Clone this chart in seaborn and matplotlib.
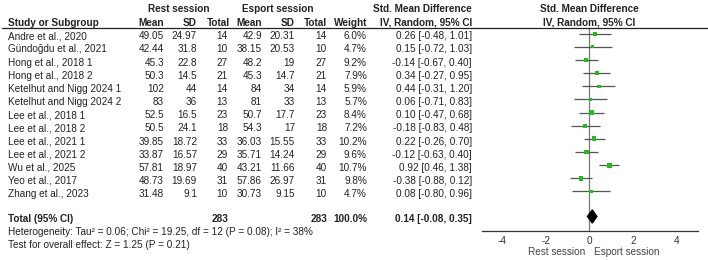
import matplotlib
matplotlib.use('Agg')
import matplotlib.pyplot as plt
from matplotlib.lines import Line2D
from matplotlib.patches import Polygon
from matplotlib.transforms import blended_transform_factory
import numpy as np
import pandas as pd
import seaborn as sns

# ---- data ----
studies = ['Andre et al., 2020', 'Gündoğdu et al., 2021', 'Hong et al., 2018 1', 'Hong et al., 2018 2',
           'Ketelhut and Nigg 2024 1', 'Ketelhut and Nigg 2024 2', 'Lee et al., 2018 1', 'Lee et al., 2018 2',
           'Lee et al., 2021 1', 'Lee et al., 2021 2', 'Wu et al., 2025', 'Yeo et al., 2017', 'Zhang et al., 2023']
rest_mean = ['49.05', '42.44', '45.3', '50.3', '102', '83', '52.5', '50.5', '39.85', '33.87', '57.81', '48.73', '31.48']
rest_sd = ['24.97', '31.8', '22.8', '14.5', '44', '36', '16.5', '24.1', '18.72', '16.57', '18.97', '19.69', '9.1']
rest_n = [14, 10, 27, 21, 14, 13, 23, 18, 33, 29, 40, 31, 10]
esport_mean = ['42.9', '38.15', '48.2', '45.3', '84', '81', '50.7', '54.3', '36.03', '35.71', '43.21', '57.86', '30.73']
esport_sd = ['20.31', '20.53', '19', '14.7', '34', '33', '17.7', '17', '15.55', '14.24', '11.66', '26.97', '9.15']
esport_n = [14, 10, 27, 21, 14, 13, 23, 18, 33, 29, 40, 31, 10]
weight = [6.0, 4.7, 9.2, 7.9, 5.9, 5.7, 8.4, 7.2, 10.2, 9.6, 10.7, 9.8, 4.7]
smd = [0.26, 0.15, -0.14, 0.34, 0.44, 0.06, 0.10, -0.18, 0.22, -0.12, 0.92, -0.38, 0.08]
ci_low = [-0.48, -0.72, -0.67, -0.27, -0.31, -0.71, -0.47, -0.83, -0.26, -0.63, 0.46, -0.88, -0.80]
ci_high = [1.01, 1.03, 0.40, 0.95, 1.20, 0.83, 0.68, 0.48, 0.70, 0.40, 1.38, 0.12, 0.96]
total_rest = 283
total_esport = 283
total_smd, total_low, total_high = 0.14, -0.08, 0.35
heterogeneity = 'Heterogeneity: Tau² = 0.06; Chi² = 19.25, df = 12 (P = 0.08); I² = 38%'
overall = 'Test for overall effect: Z = 1.25 (P = 0.21)'
x_ticks = [-4, -2, 0, 2, 4]

df = pd.DataFrame({'study': studies, 'smd': smd, 'low': ci_low, 'high': ci_high, 'weight': weight})
df['row'] = np.arange(len(df))

# ---- layout ----
W, H = 708, 260
sns.set_style('white')
plt.rcParams['font.family'] = ['Liberation Sans', 'DejaVu Sans']
fs = 7.2
txt = '#222222'

fig = plt.figure(figsize=(W / 100, H / 100), dpi=100)

row0, step = 33.7, 13.15            # pixel y of first row, row spacing
top_px, bot_px = 27.5, 231
y_top = (top_px - row0) / step
y_bot = (bot_px - row0) / step
total_row = 13.9

ax = fig.add_axes([482 / W, 1 - bot_px / H, (698 - 482) / W, (bot_px - top_px) / H])
ax.set_xlim(-4.91, 4.98)
ax.set_ylim(y_bot, y_top)

# CI lines + squares
ax.hlines(df['row'], df['low'], df['high'], color='#555555', lw=0.9, zorder=2)
sns.scatterplot(data=df, x='smd', y='row', size='weight', sizes=(5, 13), marker='s',
                color='#22bb22', edgecolor='none', legend=False, ax=ax, zorder=3)
ax.axvline(0, color='#777777', lw=0.9, zorder=1)
diamond = Polygon([[total_low, total_row], [total_smd, total_row - 0.5],
                   [total_high, total_row], [total_smd, total_row + 0.5]],
                  closed=True, color='black', zorder=4)
ax.add_patch(diamond)

for s in ['top', 'left', 'right']:
    ax.spines[s].set_visible(False)
ax.spines['bottom'].set_color('#333333')
ax.spines['bottom'].set_linewidth(0.9)
ax.set_yticks([])
ax.set_xticks(x_ticks)
ax.set_xticklabels([str(t) for t in x_ticks])
ax.tick_params(axis='x', direction='inout', length=3.5, width=0.8, color='#333333',
               labelsize=fs, labelcolor='#333333', pad=1.5)
ax.set_xlabel('')
ax.set_ylabel('')
lab_y = (252 - row0) / step
ax.text(-0.2, lab_y, 'Rest session', ha='right', va='center', fontsize=fs, color='#444444', clip_on=False)
ax.text(0.2, lab_y, 'Esport session', ha='left', va='center', fontsize=fs, color='#444444', clip_on=False)

# ---- table text ----
tr = blended_transform_factory(fig.transFigure, ax.transData)


def put(x_px, row, s, ha='right', bold=False):
    fig.text(x_px / W, row, s, transform=tr, ha=ha, va='center', fontsize=fs, color=txt,
             fontweight='bold' if bold else 'normal')


h1 = (9 - row0) / step
h2 = (22.5 - row0) / step
put(179, h1, 'Rest session', ha='center', bold=True)
put(278, h1, 'Esport session', ha='center', bold=True)
put(472, h1, 'Std. Mean Difference', bold=True)
put(589, h1, 'Std. Mean Difference', ha='center', bold=True)
put(8, h2, 'Study or Subgroup', ha='left', bold=True)
put(164, h2, 'Mean', bold=True)
put(197, h2, 'SD', bold=True)
put(230, h2, 'Total', bold=True)
put(262, h2, 'Mean', bold=True)
put(295, h2, 'SD', bold=True)
put(327, h2, 'Total', bold=True)
put(367, h2, 'Weight', bold=True)
put(472, h2, 'IV, Random, 95% CI', bold=True)
put(589, h2, 'IV, Random, 95% CI', ha='center', bold=True)

fig.add_artist(Line2D([2 / W, 1], [1 - top_px / H, 1 - top_px / H], color='#222222', lw=0.9))

for i in range(len(studies)):
    r = i + 0.2
    put(8, r, studies[i], ha='left')
    put(164, r, rest_mean[i])
    put(197, r, rest_sd[i])
    put(228, r, str(rest_n[i]))
    put(262, r, esport_mean[i])
    put(295, r, esport_sd[i])
    put(327, r, str(esport_n[i]))
    put(367, r, f'{weight[i]:.1f}%')
    put(472, r, f'{smd[i]:.2f} [{ci_low[i]:.2f}, {ci_high[i]:.2f}]')

tr_row = total_row + 0.2
put(8, tr_row, 'Total (95% CI)', ha='left', bold=True)
put(228, tr_row, str(total_rest), bold=True)
put(327, tr_row, str(total_esport), bold=True)
put(367, tr_row, '100.0%', bold=True)
put(472, tr_row, f'{total_smd:.2f} [{total_low:.2f}, {total_high:.2f}]', bold=True)
put(8, (232.3 - row0) / step, heterogeneity, ha='left')
put(8, (245 - row0) / step, overall, ha='left')

fig.savefig('out.png', dpi=100)
